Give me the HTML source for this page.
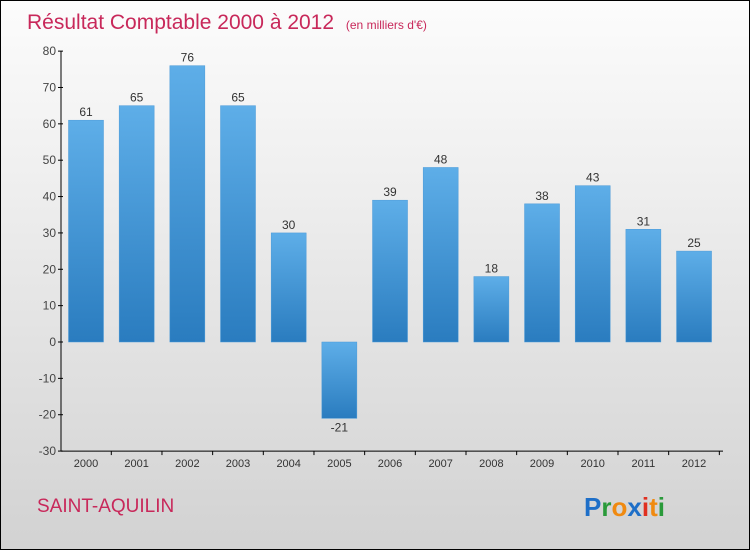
<!DOCTYPE html>
<html><head><meta charset="utf-8"><style>
body{margin:0}
#c{width:748px;height:548px;border:1px solid #000;background:linear-gradient(#fcfcfc,#f0f0f0 30%,#d2d2d2);position:relative;font-family:"Liberation Sans",sans-serif;overflow:hidden}
</style></head><body>
<div id="c">
<svg width="748" height="548">
<defs><linearGradient id="g" x1="0" y1="0" x2="0" y2="1"><stop offset="0" stop-color="#5eaee8"/><stop offset="1" stop-color="#2a7cbf"/></linearGradient></defs>
<text x="26" y="28" font-size="21" fill="#c8285a">Résultat Comptable 2000 à 2012 <tspan font-size="12" dx="6">(en milliers d'€)</tspan></text>
<g id="plot"></g>
<text x="36" y="511" font-size="19" fill="#c8285a">SAINT-AQUILIN</text>
<text x="583" y="515" font-size="26" font-weight="bold"><tspan fill="#1e6fc8">P</tspan><tspan fill="#2a9a3a">r</tspan><tspan fill="#f08a10">o</tspan><tspan fill="#1e6fc8">x</tspan><tspan fill="#e03020">i</tspan><tspan fill="#f08a10">t</tspan><tspan fill="#2a9a3a">i</tspan></text>
</svg></div>
<script>
const years=["2000","2001","2002","2003","2004","2005","2006","2007","2008","2009","2010","2011","2012"];
const values=[61,65,76,65,30,-21,39,48,18,38,43,31,25];
const ticks=[-30,-20,-10,0,10,20,30,40,50,60,70,80];
const NS="http://www.w3.org/2000/svg";
const g=document.getElementById('plot');
const y=v=>341-v*3.636;
const x=i=>85+i*50.67;
function mk(t,a){const e=document.createElementNS(NS,t);for(const k in a)e.setAttribute(k,a[k]);g.appendChild(e);return e;}
let e=mk('line',{x1:60,y1:y(80),x2:60,y2:y(-30),stroke:'#000'});


e=mk('line',{x1:60,y1:y(-30),x2:722,y2:y(-30),stroke:'#000'});


ticks.forEach(t=>{
 let l=mk('line',{x1:57,x2:62,y1:y(t),y2:y(t),stroke:'#000'});
 
 
 let tx=mk('text',{x:55,y:y(t)+4,'text-anchor':'end','font-size':12,fill:'#444'});
 tx.textContent=t;
 
 
});
years.forEach((yr,i)=>{
 let tk=mk('line',{x1:x(i)+25.3,x2:x(i)+25.3,y1:y(-30),y2:y(-30)+4,stroke:'#000'});
 
 
 let tx=mk('text',{x:x(i),y:466,'text-anchor':'middle','font-size':11,fill:'#333'});
 tx.textContent=yr;
 
 
 const v=values[i];
 const top=Math.min(y(v),y(0)),h=Math.abs(y(v)-y(0));
 let b=mk('rect',{x:x(i)-17.5,y:top,width:35,height:h,fill:'url(#g)',stroke:'#4a9ad8','stroke-width':0.5});
 
 
 let lb=mk('text',{x:x(i),y:v>=0?y(v)-4:y(v)+13,'text-anchor':'middle','font-size':12,fill:'#333'});
 lb.textContent=v;
 
 
});
</script>
</body></html>
